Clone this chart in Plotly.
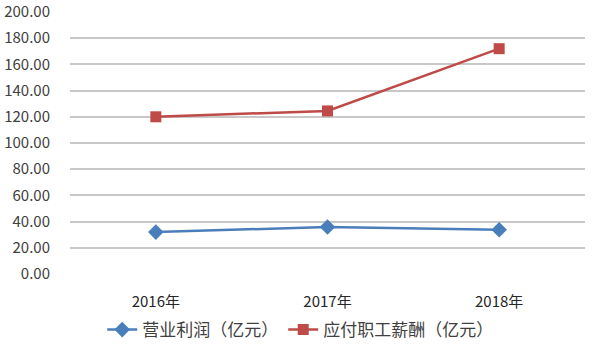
import plotly.graph_objects as go

years = ["2016年", "2017年", "2018年"]
profit = [32.0, 35.9, 33.8]
salary = [120.0, 124.5, 172.0]
y_ticks = [0, 20, 40, 60, 80, 100, 120, 140, 160, 180, 200]
y_labels = ["%.2f" % v for v in y_ticks]

fig = go.Figure()
fig.add_trace(go.Scatter(
    x=years, y=profit, name="营业利润（亿元）", mode="lines+markers",
    line=dict(color="#4A7EBB", width=2.5),
    marker=dict(symbol="diamond", size=12, color="#4A7EBB")))
fig.add_trace(go.Scatter(
    x=years, y=salary, name="应付职工薪酬（亿元）", mode="lines+markers",
    line=dict(color="#BE4B48", width=2.5),
    marker=dict(symbol="square", size=11, color="#BE4B48")))

fig.update_layout(
    width=600, height=353,
    margin=dict(l=70, r=15, t=12, b=79, autoexpand=False),
    paper_bgcolor="white", plot_bgcolor="white",
    font=dict(family="Noto Sans CJK SC, Noto Sans, sans-serif", size=13, color="#404040"),
    showlegend=True,
    legend=dict(orientation="h", x=0.447, xanchor="center", y=-0.214, yanchor="middle",
                font=dict(size=17, color="#404040"), itemwidth=30, tracegroupgap=0),
    xaxis=dict(range=[-0.5, 2.5], showgrid=False, showline=False, ticks="outside",
               ticklen=14, tickcolor="white", automargin=False,
               tickfont=dict(size=15, color="#262626")),
    yaxis=dict(range=[0, 200], tickvals=y_ticks, ticktext=y_labels, automargin=False,
               showgrid=True, gridcolor="#C8C8C8", gridwidth=1.5,
               zeroline=False, showline=False, ticks="outside", ticklen=16, tickcolor="white",
               tickfont=dict(size=15, color="#404040")),
)
fig.write_html("out.html")
